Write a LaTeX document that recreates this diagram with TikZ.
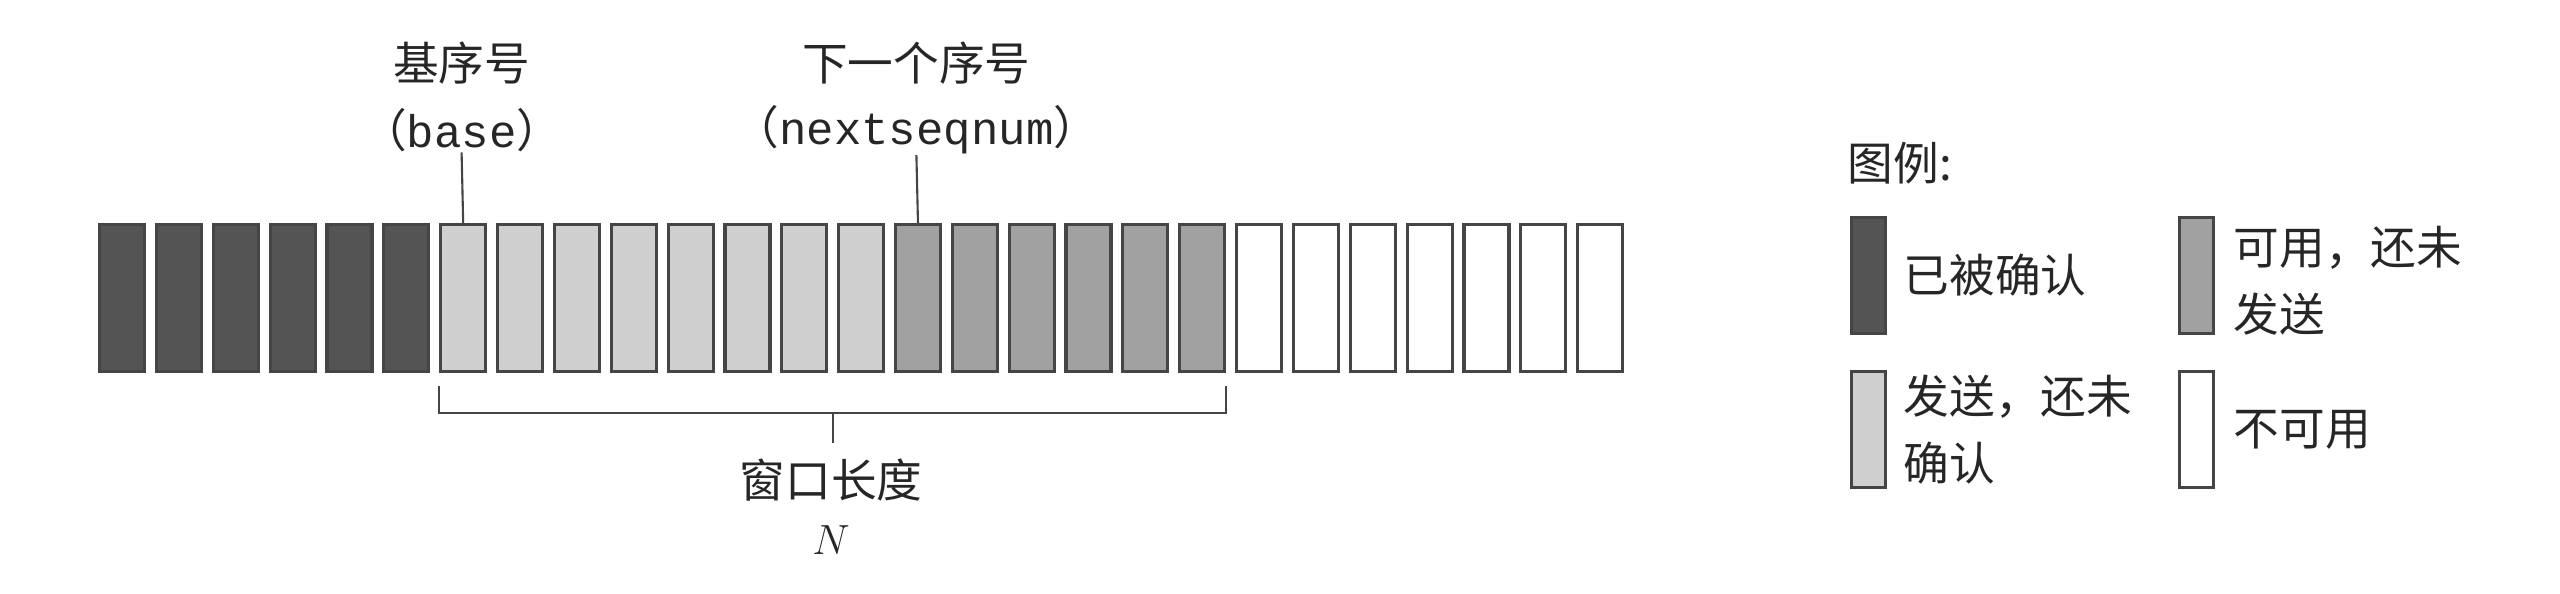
\documentclass[tikz,border=0pt]{standalone}
\usepackage{fontspec}
\setmainfont{Noto Sans CJK SC}
\setmonofont{Liberation Mono}
\usetikzlibrary{positioning, calc}

\definecolor{ackd}{gray}{0.33}
\definecolor{sent}{gray}{0.81}
\definecolor{usable}{gray}{0.63}
\definecolor{edge}{gray}{0.27}

\begin{document}
\begin{tikzpicture}[x=0.1mm, y=-0.1mm, font=\fontsize{13}{19}\selectfont,
  cell/.style={draw=edge, line width=0.9pt, anchor=north west, inner sep=0, minimum width=4.5mm, minimum height=14.7mm},
  key/.style={draw=edge, line width=0.9pt, anchor=north west, inner sep=0, minimum width=3.4mm, minimum height=11.6mm},
  lbl/.style={inner sep=0, align=center, text=black!85},
  keytxt/.style={inner sep=0, anchor=west, align=left, text=black!85},
  lead/.style={draw=edge, line width=0.6pt}]
\useasboundingbox (0,0) rectangle (2560,594);
% sequence numbers
\foreach \i in {0,...,5} \node[cell, fill=ackd] (c\i) at ({98+56.85*\i},223) {};
\foreach \i in {6,...,13} \node[cell, fill=sent] (c\i) at ({98+56.85*\i},223) {};
\foreach \i in {14,...,19} \node[cell, fill=usable] (c\i) at ({98+56.85*\i},223) {};
\foreach \i in {20,...,26} \node[cell, fill=white] (c\i) at ({98+56.85*\i},223) {};

\node[lbl] (base) at (461.6,63) {基序号};
\node[lbl] (basevar) at (461.6,130) {（\texttt{base}）};
\node[lbl] (next) at (916.4,63) {下一个序号};
\node[lbl] (nextvar) at (916.4,130) {（\texttt{nextseqnum}）};
\draw[lead] (basevar.south) -- (c6.north);
\draw[lead] (nextvar.south) -- (c14.north);

% window
\draw[lead] ([yshift=-1.3mm]c6.south west) |- ([yshift=-4mm]c19.south east) -- ([yshift=-1.3mm]c19.south east);
\coordinate (wmid) at ($(c6.south west)!.5!(c19.south east)$);
\draw[lead] ([yshift=-4mm]wmid) -- ([yshift=-7mm]wmid);
\node[lbl] (wlen) at (831,480) {窗口长度};
\node[lbl] (wn) at (831,540) {$N$};

% legend
\node[keytxt] (keyhead) at (1847,163) {图例:};
\node[key, fill=ackd] (k1) at (1850,216) {};
\node[key, fill=sent] (k2) at (1850,370) {};
\node[key, fill=usable] (k3) at (2178,216) {};
\node[key, fill=white] (k4) at (2178,370) {};
\node[keytxt] (k1t) at ([xshift=1.6mm]k1.east) {已被确认};
\node[keytxt] (k2t) at ([xshift=1.6mm]k2.east) {发送，还未\\确认};
\node[keytxt] (k3t) at ([xshift=1.8mm,yshift=-0.5mm]k3.east) {可用，还未\\发送};
\node[keytxt] (k4t) at ([xshift=1.8mm]k4.east) {不可用};
\end{tikzpicture}
\end{document}
